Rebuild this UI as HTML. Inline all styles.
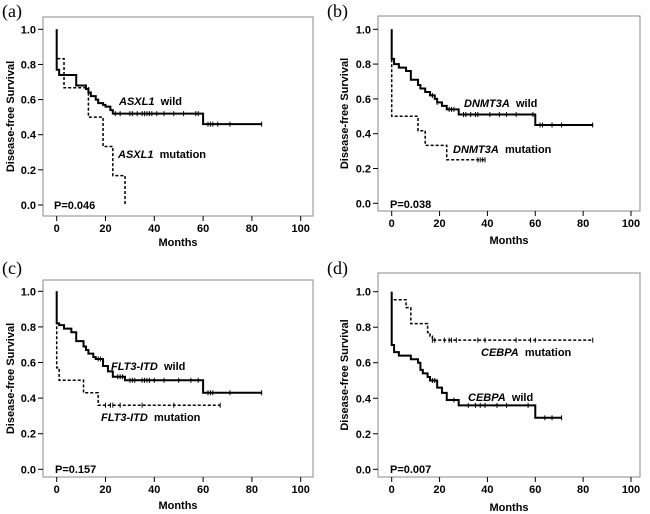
<!DOCTYPE html>
<html><head><meta charset="utf-8"><style>
body{margin:0;background:#fff;}
svg{display:block;font-family:"Liberation Sans",Arial,sans-serif;}
.tk{font-size:11px;font-weight:bold;}
.pl{font-family:"Liberation Serif",serif;font-size:18px;}
</style></head><body>
<svg id="c" width="650" height="514"></svg>
<script>
// Panel a: ASXL1
const aWildT=[0,1,8,12,13,14,16,17,19,20,22,23,60];
const aWildS=[0.77,0.74,0.68,0.66,0.64,0.62,0.60,0.58,0.57,0.56,0.54,0.52,0.46];
const aWildCens=[24,26,30,31,33,35,36,37,38,39,41,44,48,52,57,58,62,63,64,66,71,84];
const aWildEnd=84;
const aMutT=[0,3,13,19,23,28];
const aMutS=[0.833,0.667,0.5,0.333,0.167,0];
const aMutCens=[];
const aMutEnd=28;
// Panel b: DNMT3A
const bWildT=[0,1,3,6,8,11,12,14,16,18,19,21,23,28,60];
const bWildS=[0.83,0.80,0.78,0.76,0.71,0.68,0.66,0.64,0.62,0.60,0.58,0.56,0.54,0.51,0.45];
const bWildCens=[17,19,24,25,26,30,31,33,35,36,41,45,48,52,59,62,63,67,71,84];
const bWildEnd=84;
const bMutT=[0,11,14,23];
const bMutS=[0.5,0.417,0.333,0.25];
const bMutCens=[36,37,38,39];
const bMutEnd=39;
// Panel c: FLT3-ITD
const cWildT=[0,1,3,6,8,11,12,13,15,16,19,21,23,28,60];
const cWildS=[0.82,0.81,0.79,0.77,0.72,0.69,0.67,0.65,0.63,0.62,0.58,0.55,0.52,0.50,0.43];
const cWildCens=[17,18,25,26,27,30,31,32,35,36,37,38,40,44,50,55,58,62,63,64,71,84];
const cWildEnd=84;
const cMutT=[0,1,11,17];
const cMutS=[0.57,0.5,0.43,0.36];
const cMutCens=[20,22,23,26,35,48,67];
const cMutEnd=67;
// Panel d: CEBPA
const dWildT=[0,1,3,8,11,12,13,15,16,19,21,23,28,60];
const dWildS=[0.70,0.66,0.64,0.62,0.60,0.56,0.54,0.52,0.50,0.46,0.43,0.39,0.36,0.29];
const dWildCens=[17,18,26,32,35,37,39,44,48,57,64,67,71];
const dWildEnd=71;
const dMutT=[0,6,8,15,16,17];
const dMutS=[0.955,0.91,0.82,0.77,0.75,0.727];
const dMutCens=[17,18,22,24,25,27,36,39,52,58,60,84];
const dMutEnd=84;
const xTicks=[0,20,40,60,80,100];
const yTicks=["0.0","0.2","0.4","0.6","0.8","1.0"];

const NS="http://www.w3.org/2000/svg";
const svg=document.getElementById('c');
function el(tag,attrs,parent){const e=document.createElementNS(NS,tag);for(const k in attrs)e.setAttribute(k,attrs[k]);(parent||svg).appendChild(e);return e;}

const panels=[
 {id:'a',lab:'(a)',labX:2,labY:17,box:[43,17,313,216],x0:56.7,x1:300.7,y1:29.3,y0:205,yl:14,ml:246,
  wild:[aWildT,aWildS,aWildCens,aWildEnd],mut:[aMutT,aMutS,aMutCens,aMutEnd],gene:'ASXL1',
  wl:[119,105],mlab:[118,158],p:'P=0.046',pp:[54,209]},
 {id:'b',lab:'(b)',labX:327,labY:17,box:[378,16,640,211],x0:391.7,x1:631,y1:29.3,y0:203.3,yl:348,ml:244,
  wild:[bWildT,bWildS,bWildCens,bWildEnd],mut:[bMutT,bMutS,bMutCens,bMutEnd],gene:'DNMT3A',
  wl:[464,107],mlab:[453,153],p:'P=0.038',pp:[390,208]},
 {id:'c',lab:'(c)',labX:2,labY:274,box:[43,280,313,477],x0:56.7,x1:300.7,y1:291.3,y0:469.3,yl:14,ml:509,
  wild:[cWildT,cWildS,cWildCens,cWildEnd],mut:[cMutT,cMutS,cMutCens,cMutEnd],gene:'FLT3-ITD',
  wl:[111,370],mlab:[101,421],p:'P=0.157',pp:[55,473]},
 {id:'d',lab:'(d)',labX:327,labY:274,box:[378,273,640,477],x0:391.7,x1:631,y1:291.7,y0:469.3,yl:348,ml:511,
  wild:[dWildT,dWildS,dWildCens,dWildEnd],mut:[dMutT,dMutS,dMutCens,dMutEnd],gene:'CEBPA',
  wl:[468,401],mlab:[481,356],p:'P=0.007',pp:[390,473]}
];

function survAt(T,S,t){let s=1;for(let i=0;i<T.length;i++){if(T[i]<=t)s=S[i];}return s;}

panels.forEach(P=>{
  const g=el('g',{});
  
  
  const X=v=>P.x0+(P.x1-P.x0)*v/100;
  const Y=v=>P.y0-(P.y0-P.y1)*v;
  const [bl,bt,br,bb]=P.box;
  const fr=el('rect',{x:bl,y:bt,width:br-bl,height:bb-bt,fill:'none',stroke:'#888','stroke-width':1},g);
  
  
  const pl=el('text',{x:P.labX,y:P.labY,class:'pl'},g);pl.textContent=P.lab;
  
  
  yTicks.forEach(tl=>{const v=parseFloat(tl);const y=Y(v);
    el('line',{x1:bl-5,x2:bl,y1:y,y2:y,stroke:'#000'},g);
    const t=el('text',{x:bl-7,y:y+4,'text-anchor':'end',class:'tk'},g);t.textContent=tl;
    
    
  });
  xTicks.forEach(v=>{const x=X(v);
    el('line',{x1:x,x2:x,y1:bb,y2:bb+5,stroke:'#000'},g);
    const t=el('text',{x:x,y:bb+16,'text-anchor':'middle',class:'tk'},g);t.textContent=v;
    
    
  });
  const yt=el('text',{x:0,y:0,transform:`translate(${P.yl},${(bt+bb)/2}) rotate(-90)`,'text-anchor':'middle',class:'tk'},g);
  yt.textContent='Disease-free Survival';
  
  
  const xt=el('text',{x:(bl+br)/2,y:P.ml,'text-anchor':'middle',class:'tk'},g);
  xt.textContent='Months';
  
  
  [['wild',P.wild,''],['mut',P.mut,'3,2']].forEach(([nm,[T,S,C,E],dash])=>{
    let d=`M${X(0)},${Y(1)}`;
    for(let i=0;i<T.length;i++){d+=` H${X(T[i])} V${Y(S[i])}`;}
    d+=` H${X(E)}`;
    const p=el('path',{d:d,fill:'none',stroke:'#000','stroke-width':nm==='wild'?2:1.5,'stroke-dasharray':dash},g);
    
    
    C.forEach(t=>{const s=survAt(T,S,t);
      const m=el('line',{x1:X(t),x2:X(t),y1:Y(s)-2.5,y2:Y(s)+2.5,stroke:'#000','stroke-width':1},g);
      
      
    });
  });
  function lab(pos,suffix,nm){
    const t=el('text',{x:pos[0],y:pos[1],class:'tk'},g);
    const a=el('tspan',{'font-style':'italic'},t);a.textContent=P.gene;
    const b=el('tspan',{},t);b.textContent='  '+suffix;
    t.setAttribute('style','white-space:pre');
    
    
  }
  lab(P.wl,'wild','wild-label');
  lab(P.mlab,'mutation','mutation-label');
  const pt=el('text',{x:P.pp[0],y:P.pp[1],class:'tk'},g);pt.textContent=P.p;
  
  
});
</script>
</body></html>
